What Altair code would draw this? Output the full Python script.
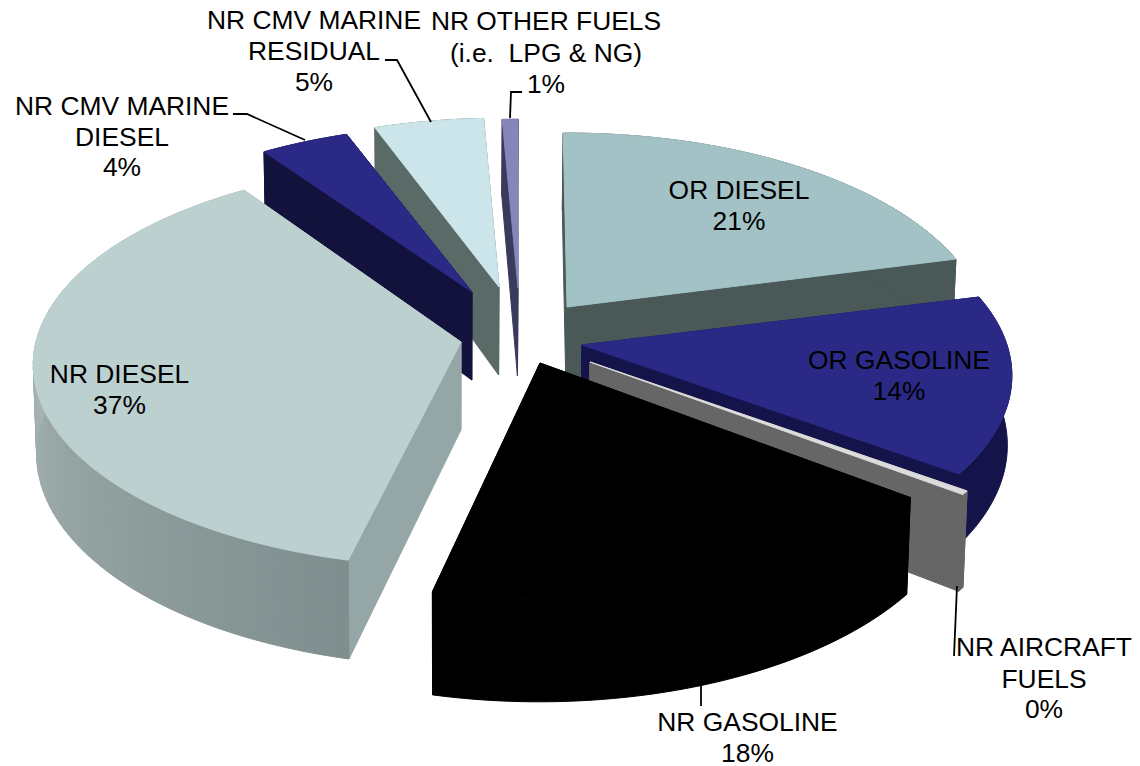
import math
import altair as alt

# chart values
names = ["OR DIESEL", "OR GASOLINE", "NR AIRCRAFT FUELS", "NR GASOLINE", "NR DIESEL",
         "NR CMV MARINE DIESEL", "NR CMV MARINE RESIDUAL", "NR OTHER FUELS"]
shares = [21, 14, 0.3, 18, 37, 4, 5, 0.7]

top_colors = ["#a3c2c5", "#2a2a86", "#dcdcdc", "#000000", "#bcd0d0", "#2a2a86", "#cbe5ea", "#8686ba"]
edge_colors = ["#4a5858", "#14144a", "#666666", "#000000", "#95a6a6", "#12123c", "#5a6a66", "#3a3a5c"]
rim_colors = [("#4a5858", "#4a5858"), ("#14144a", "#14144a"), ("#666666", "#666666"), ("#000000", "#000000"),
              ("#7f8e8e", "#a8b6b6"), ("#12123c", "#12123c"), ("#5a6a66", "#5a6a66"), ("#3a3a5c", "#3a3a5c")]

# exploded apex of each slice and its camera correction
apex = [(567, 307), (582, 345), (590, 362), (540, 363), (461, 342), (472, 292), (499, 287), (518, 288)]
scale_x = [0.98, 1.0, 1.0, 1.0, 1.0, 0.96, 0.95, 0.97]
scale_y = [1.0, 1.0, 1.0, 1.0, 1.0, 0.96, 0.97, 0.97]
depth = [0.15, 0.15, 0.15, 0.15, 0.1125, 0.15, 0.15, 0.15]
turn_start = [-0.6, 0, 0, 0.6, 1.8, 0, 0, 0]
turn_end = [0, 0, 0, 0.6, 1.0, 0, 0, 0]
wall = [88, 68, 88, 88, 88, 88, 88, 88]

# perspective camera
A, B = 425, 200
PIVOT, BOTTOM_SHRINK = 450, 0.992

# label lines: centre x, baseline y, text
label_lines = [
    (122, 114.5, "NR CMV MARINE"), (122, 145.5, "DIESEL"), (122, 176, "4%"),
    (314, 29, "NR CMV MARINE"), (314, 60, "RESIDUAL"), (314, 91, "5%"),
    (546, 30, "NR OTHER FUELS"), (546, 62, "(i.e.\u00a0\u00a0LPG & NG)"), (546, 93, "1%"),
    (739, 199, "OR DIESEL"), (739, 230, "21%"),
    (899, 369, "OR GASOLINE"), (899, 400, "14%"),
    (119.5, 382.5, "NR DIESEL"), (119.5, 414, "37%"),
    (1044, 656, "NR AIRCRAFT"), (1044, 687.5, "FUELS"), (1044, 718, "0%"),
    (747.5, 730.5, "NR GASOLINE"), (747.5, 762, "18%"),
]
leaders = [
    [(233, 114), (247, 114), (305, 140)],
    [(385, 60), (397, 60), (431, 122)],
    [(522, 92), (511, 92), (510, 118)],
    [(957, 586), (954, 656)],
    [(701, 678), (701, 706)],
]


def rim(i, deg, down=False):
    t = math.radians(deg)
    u, v = math.sin(t), math.cos(t)
    w = 1 + depth[i] * v
    x = apex[i][0] + scale_x[i] * A * u / w
    y = apex[i][1] - scale_y[i] * B * v / w
    if down:
        x = PIVOT + (x - PIVOT) * BOTTOM_SHRINK
        y += wall[i] / w
    return (x - 8, y - 8)


def centre(i, down=False):
    x, y = apex[i]
    if down:
        x = PIVOT + (x - PIVOT) * BOTTOM_SHRINK
        y += wall[i]
    return (x - 8, y - 8)


def poly(points, fill):
    ring = [list(p) for p in points] + [list(points[0])]
    return {"type": "Feature", "properties": {"fill": fill},
            "geometry": {"type": "Polygon", "coordinates": [ring]}}


def mix(c1, c2, f):
    a = [int(c1[j:j + 2], 16) for j in (1, 3, 5)]
    b = [int(c2[j:j + 2], 16) for j in (1, 3, 5)]
    return "#%02x%02x%02x" % tuple(round(p + (q - p) * f) for p, q in zip(a, b))


bounds = [0]
for s in shares:
    bounds.append(bounds[-1] + s * 3.6)

features = []
for i in [7, 6, 5, 0, 4, 1, 2, 3]:
    t0, t1 = bounds[i] + turn_start[i], bounds[i + 1] + turn_end[i]
    n = max(2, int((t1 - t0) / 1.5))
    angs = [t0 + (t1 - t0) * j / n for j in range(n + 1)]
    for deg in (t1, t0):
        features.append(poly([centre(i), rim(i, deg), rim(i, deg, True), centre(i, True)], edge_colors[i]))
    if rim_colors[i][0] == rim_colors[i][1]:
        outer = [rim(i, a) for a in angs] + [rim(i, a, True) for a in reversed(angs)]
        features.append(poly(outer, rim_colors[i][0]))
    else:
        for a0, a1 in zip(angs, angs[1:]):
            f = min(1, max(0, (a0 - t0) / 85))
            features.append(poly([rim(i, a0), rim(i, a1), rim(i, a1, True), rim(i, a0, True)],
                                 mix(rim_colors[i][0], rim_colors[i][1], f)))
    features.append(poly([centre(i)] + [rim(i, a) for a in angs], top_colors[i]))

leader_features = [{"type": "Feature", "properties": {},
                    "geometry": {"type": "LineString",
                                 "coordinates": [[x - 8, y - 8] for x, y in line]}}
                   for line in leaders]

proj = dict(type="identity", scale=1, translate=[0, 0])

faces = alt.Chart(alt.Data(values=features)).mark_geoshape(strokeWidth=1.0).encode(
    fill=alt.Fill("properties.fill:N", scale=None),
    stroke=alt.Stroke("properties.fill:N", scale=None),
).project(**proj)

lines = alt.Chart(alt.Data(values=leader_features)).mark_geoshape(
    filled=False, stroke="#000000", strokeWidth=1.8
).project(**proj)

labels = alt.Chart(alt.Data(values=[{"x": x - 8, "y": y - 8, "t": t} for x, y, t in label_lines])).mark_text(
    font="Liberation Sans", fontSize=26.4, color="#000000", align="center", baseline="alphabetic"
).encode(x=alt.X("x:Q", scale=None), y=alt.Y("y:Q", scale=None), text="t:N")

chart = alt.layer(faces, lines, labels).properties(
    width=1124, height=757, padding=0, autosize=alt.AutoSizeParams(type="none")
).configure_view(stroke=None)

chart.save("out.html", embed_options={"renderer": "svg", "actions": False})
